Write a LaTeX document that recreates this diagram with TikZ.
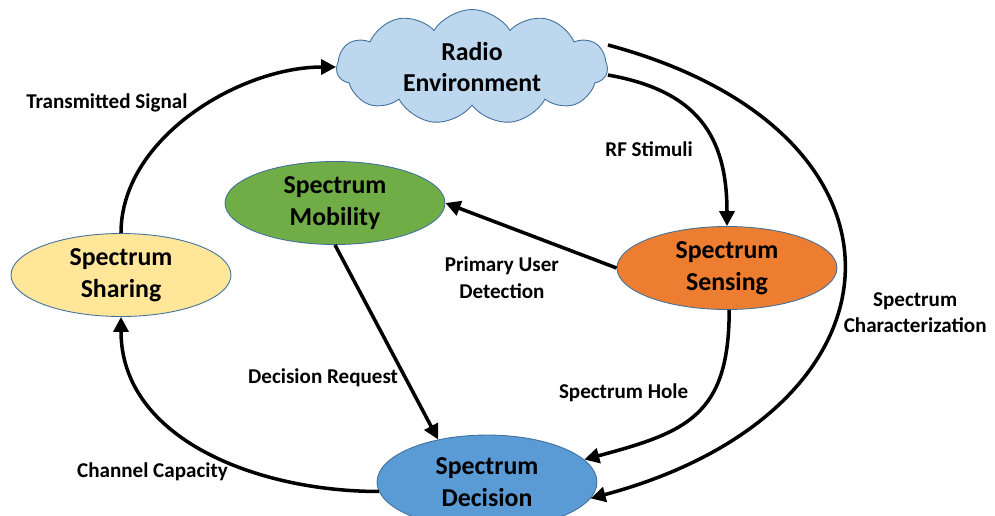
\documentclass[tikz,border=0pt]{standalone}
\usepackage{fontspec}
\setmainfont{Carlito}
\usepackage{tikz}
\usetikzlibrary{arrows.meta,shapes.geometric,shapes.symbols}

\definecolor{envblue}{RGB}{189,215,238}
\definecolor{rimblue}{RGB}{65,113,156}
\definecolor{mobgreen}{RGB}{112,173,71}
\definecolor{sensorange}{RGB}{237,125,49}
\definecolor{sharyellow}{RGB}{255,230,153}
\definecolor{decblue}{RGB}{91,155,213}

\begin{document}
\begin{tikzpicture}[->,>={Triangle[length=3mm,width=3mm]},line width=2pt,x=0.02cm,y=-0.02cm,
                    func/.style={ellipse,draw=rimblue,line width=0.5pt,minimum width=4.4cm,
                                 minimum height=1.66cm,inner sep=0pt,align=center,
                                 font=\bfseries\fontsize{14.7}{18}\selectfont},
                    lbl/.style={font=\bfseries\fontsize{12}{15}\selectfont,align=center}]

  \useasboundingbox (0,0) rectangle (995,515);

  	\node[func,cloud,fill=envblue,cloud puffs=11,cloud puff arc=115,cloud ignores aspect,
  	      minimum width=5.42cm,minimum height=2.3cm] (R) at (472,67) {Radio\\Environment};
  	\node[func,fill=mobgreen] (Mo) at (335,203)   	{Spectrum\\Mobility};
  	\node[func,fill=sensorange] (Se) at (727,268)   	{Spectrum\\Sensing};
  	\node[func,fill=sharyellow] (Sh) at (121,275)   	{Spectrum\\Sharing};
  	\node[func,fill=decblue,minimum height=1.88cm] (De) at (487,482)   	{Spectrum\\Decision};

  	\path (Sh.north) edge[out=90,in=180,looseness=0.9]	node[lbl,pos=0.5,anchor=south east,inner sep=2pt,yshift=-2pt] {Transmitted Signal} (R.west);
  	\path ([yshift=-0.16cm]R.east) edge[out=-10,in=90,looseness=1.2]	node[lbl,pos=0.66,left=3mm] {RF Stimuli} (Se.north);
  	\path ([yshift=0.44cm]R.east) edge[out=-15,in=15,looseness=1.9]	node[lbl,pos=0.575,right] {Spectrum\\Characterization} (De.-9);
  	\path (Se.west) edge	node[lbl,pos=0.67,below=5mm] {Primary User\\Detection} (Mo.east);
  	\path (Se.-87) edge[out=-90,in=15,looseness=1.3]	node[lbl,pos=0.35,left=3.4mm] {Spectrum Hole} (De.13);
  	\path (Mo.south) edge	node[lbl,pos=0.685,left] {Decision Request} (De.139);
  	\path (De.185) edge[out=180,in=-90]	node[lbl,pos=0.4,anchor=east,yshift=-3.5pt] {Channel Capacity} (Sh.south);

\end{tikzpicture}
\end{document}
